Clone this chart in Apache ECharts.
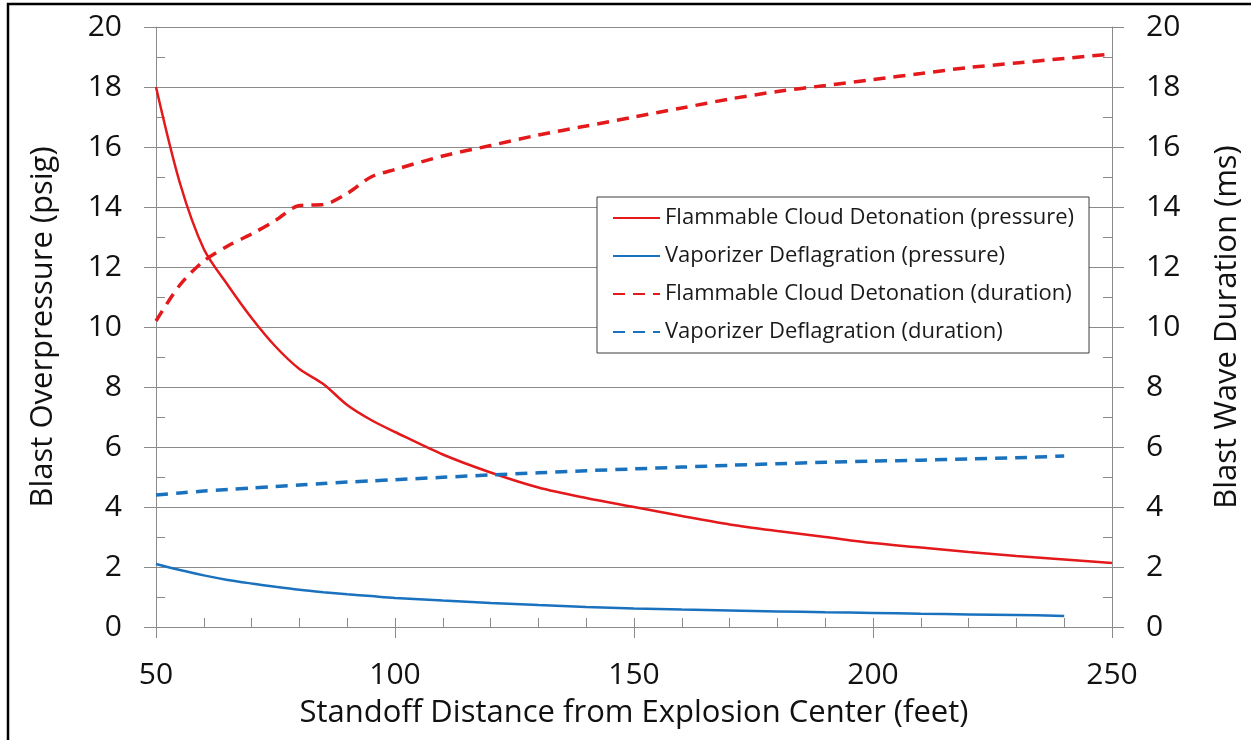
<!DOCTYPE html>
<html>
<head>
<meta charset="utf-8">
<title>Blast overpressure and duration</title>
<script src="https://cdn.jsdelivr.net/npm/echarts@6/dist/echarts.min.js"></script>
<style>
  html, body { margin: 0; padding: 0; background: #fff; }
  #chart { width: 1251px; height: 740px; }
</style>
</head>
<body>
<div id="chart"></div>
<script>
// standoff distance (feet)
var distance = [50, 55, 60, 65, 70, 75, 80, 85, 90, 95, 100, 110, 120, 130, 140, 150, 160, 170, 180, 190, 200, 210, 220, 230, 240, 250];
// overpressure (psig), left axis
var cloudPressure = [18.0, 14.8, 12.6, 11.4, 10.3, 9.35, 8.6, 8.1, 7.4, 6.9, 6.5, 5.75, 5.15, 4.65, 4.3, 4.0, 3.7, 3.42, 3.2, 3.0, 2.8, 2.65, 2.5, 2.37, 2.25, 2.13];
var vaporPressure = [2.1, 1.9, 1.72, 1.57, 1.45, 1.34, 1.24, 1.16, 1.09, 1.03, 0.97, 0.88, 0.8, 0.73, 0.67, 0.62, 0.58, 0.55, 0.52, 0.49, 0.47, 0.44, 0.42, 0.4, 0.37];
// duration (ms), right axis
var cloudDuration = [10.2, 11.4, 12.2, 12.7, 13.1, 13.55, 14.05, 14.08, 14.45, 15.0, 15.25, 15.7, 16.05, 16.4, 16.7, 17.0, 17.3, 17.6, 17.85, 18.05, 18.25, 18.45, 18.65, 18.8, 18.95, 19.1];
var vaporDuration = [4.4, 4.47, 4.53, 4.58, 4.63, 4.68, 4.73, 4.78, 4.83, 4.87, 4.91, 4.99, 5.07, 5.14, 5.21, 5.27, 5.33, 5.39, 5.44, 5.49, 5.53, 5.56, 5.6, 5.64, 5.7];

var seriesNames = [
  'Flammable Cloud Detonation (pressure)',
  'Vaporizer Deflagration (pressure)',
  'Flammable Cloud Detonation (duration)',
  'Vaporizer Deflagration (duration)'
];

function pairs(values) {
  return values.map(function (v, i) { return [distance[i], v]; });
}

var RED = '#e3191b', BLUE = '#1a72bf', GREY = '#8a8a8a';
var FONT = 'Open Sans';

var chart = echarts.init(document.getElementById('chart'));
chart.setOption({
  animation: false,
  textStyle: { fontFamily: FONT },
  grid: { left: 156, right: 138, top: 27, bottom: 113 },
  graphic: [{
    type: 'rect',
    shape: { x: 8, y: 4, width: 1262, height: 760 },
    style: { fill: 'none', stroke: '#000', lineWidth: 2.5 },
    silent: true
  }],
  legend: {
    orient: 'vertical',
    left: 597, top: 197,
    backgroundColor: '#fff',
    borderColor: '#3c3c3c', borderWidth: 1,
    padding: [10, 15, 10, 15],
    itemWidth: 47, itemHeight: 14, itemGap: 16,
    itemStyle: { opacity: 0 },
    textStyle: { fontSize: 22, fontFamily: FONT, color: '#1a1a1a' },
    data: seriesNames
  },
  xAxis: [{
    type: 'value', min: 50, max: 250, interval: 50, position: 'bottom',
    name: 'Standoff Distance from Explosion Center (feet)',
    nameLocation: 'middle', nameGap: 71,
    nameTextStyle: { fontSize: 31, color: '#111', fontFamily: FONT },
    axisLine: { show: true, lineStyle: { color: GREY, width: 1 } },
    axisTick: { show: true, length: 11, lineStyle: { color: GREY } },
    axisLabel: { fontSize: 30, margin: 33, color: '#111', fontFamily: FONT },
    splitLine: { show: false }
  }, {
    type: 'value', min: 50, max: 250, interval: 10, position: 'bottom',
    axisLine: { show: false },
    axisTick: { show: true, inside: true, length: 9, lineStyle: { color: GREY } },
    axisLabel: { show: false },
    splitLine: { show: false }
  }],
  yAxis: [{
    type: 'value', min: 0, max: 20, interval: 2, position: 'left',
    name: 'Blast Overpressure (psig)',
    nameLocation: 'middle', nameGap: 97,
    nameTextStyle: { fontSize: 31, color: '#111', fontFamily: FONT },
    axisLine: { show: true, lineStyle: { color: GREY } },
    axisTick: { show: true, length: 12, lineStyle: { color: GREY } },
    axisLabel: { fontSize: 30, margin: 34, color: '#111', fontFamily: FONT },
    splitLine: { show: true, lineStyle: { color: GREY, width: 1 } }
  }, {
    type: 'value', min: 0, max: 20, interval: 1, position: 'left',
    axisLine: { show: false },
    axisTick: { show: true, inside: true, length: 9, lineStyle: { color: GREY } },
    axisLabel: { show: false },
    splitLine: { show: false }
  }, {
    type: 'value', min: 0, max: 20, interval: 2, position: 'right',
    name: 'Blast Wave Duration (ms)',
    nameLocation: 'middle', nameGap: 100,
    nameTextStyle: { fontSize: 31, color: '#111', fontFamily: FONT },
    axisLine: { show: true, lineStyle: { color: GREY } },
    axisTick: { show: true, length: 12, lineStyle: { color: GREY } },
    axisLabel: { fontSize: 30, margin: 34, color: '#111', fontFamily: FONT },
    splitLine: { show: false }
  }, {
    type: 'value', min: 0, max: 20, interval: 1, position: 'right',
    axisLine: { show: false },
    axisTick: { show: true, inside: true, length: 9, lineStyle: { color: GREY } },
    axisLabel: { show: false },
    splitLine: { show: false }
  }],
  series: [{
    name: seriesNames[0], type: 'line', xAxisIndex: 0, yAxisIndex: 0,
    data: pairs(cloudPressure), smooth: 0.3, symbol: 'none',
    lineStyle: { color: RED, width: 2.5 }, itemStyle: { color: RED }
  }, {
    name: seriesNames[1], type: 'line', xAxisIndex: 0, yAxisIndex: 0,
    data: pairs(vaporPressure), smooth: 0.3, symbol: 'none',
    lineStyle: { color: BLUE, width: 2.5 }, itemStyle: { color: BLUE }
  }, {
    name: seriesNames[2], type: 'line', xAxisIndex: 0, yAxisIndex: 2,
    data: pairs(cloudDuration), smooth: 0.3, symbol: 'none',
    lineStyle: { color: RED, width: 3.5, type: [12, 8] }, itemStyle: { color: RED }
  }, {
    name: seriesNames[3], type: 'line', xAxisIndex: 0, yAxisIndex: 2,
    data: pairs(vaporDuration), smooth: 0.3, symbol: 'none',
    lineStyle: { color: BLUE, width: 3.5, type: [12, 8] }, itemStyle: { color: BLUE }
  }]
});
</script>
</body>
</html>
